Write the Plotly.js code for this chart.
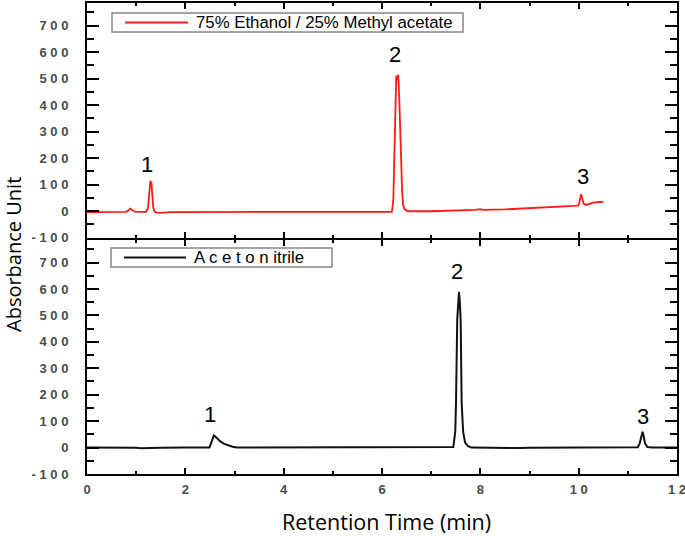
<!DOCTYPE html>
<html>
<head>
<meta charset="utf-8">
<script src="https://cdn.plot.ly/plotly-3.0.1.min.js"></script>
<style>html,body{margin:0;padding:0;background:#fff;}#chart{width:685px;height:536px;}</style>
</head>
<body>
<div id="chart"></div>
<script>
// Top panel: 75% Ethanol / 25% Methyl acetate (red)
const redTime = [0.00,0.30,0.60,0.80,0.85,0.88,0.92,0.97,1.10,1.20,1.24,1.26,1.28,1.29,1.30,1.31,1.33,1.35,1.38,1.45,1.55,1.70,2.00,2.50,3.00,3.50,4.00,4.50,5.00,5.50,6.00,6.20,6.23,6.25,6.27,6.29,6.31,6.33,6.35,6.37,6.39,6.41,6.43,6.46,6.52,6.60,7.00,7.50,7.90,8.00,8.05,8.50,9.00,9.50,9.90,10.00,10.03,10.05,10.07,10.10,10.15,10.22,10.30,10.40,10.50];
const redSignal = [-4,-4,-4,-3,4,9,4,-2,-3,-3,10,60,110,114,100,110,55,10,-4,-7,-6,-4,-4,-3,-3,-3,-3,-3,-3,-3,-3,-3,40,200,420,510,495,515,430,300,170,70,22,6,0,-1,-1,1,4,7,4,6,10,14,19,21,45,63,50,28,23,27,32,34,34];

// Bottom panel: Acetonitrile (black)
const blackTime = [0.00,0.50,1.00,1.10,1.20,1.30,1.40,1.50,2.00,2.49,2.52,2.55,2.58,2.62,2.70,2.78,2.86,2.96,3.05,3.50,4.00,5.00,6.00,7.00,7.40,7.45,7.49,7.505,7.53,7.555,7.565,7.58,7.60,7.62,7.65,7.69,7.75,7.82,8.30,8.50,8.60,8.70,8.80,9.00,10.00,10.90,11.00,11.10,11.20,11.24,11.28,11.30,11.32,11.35,11.40,11.50,12.00];
const blackSignal = [0,0,-1,-3,-3,-1,-3,-1,0,0,15,35,46,40,25,15,9,3,0,0,0,0,0,0,0,2,60,169,483,580,589,560,483,169,60,19,5,0,-1,-3,-2,-3,-2,-1,0,1,2,1,1,15,50,60,45,15,2,0,0];

const yTickVals = [-100,0,100,200,300,400,500,600,700];
const yTickText = ['- 1 0 0','0','1 0 0','2 0 0','3 0 0','4 0 0','5 0 0','6 0 0','7 0 0'];
const xTickVals = [0,2,4,6,8,10,12];
const xTickText = ['0','2','4','6','8','1 0','1 2'];

const series1Name = '75% Ethanol / 25% Methyl acetate';
const series2Name = 'A c e t o n itrile';
const peakLabels = ['1','2','3'];
const xTitle = 'Retention Time (min)';
const yTitle = 'Absorbance Unit';

const tickFont = {family:'Liberation Sans, Arial, sans-serif', size:13, color:'#4a4a4a', weight:'bold'};

function xAxis(anchor, showLabels){
  return {
    anchor: anchor, domain:[0,1], range:[0,12], showgrid:false, zeroline:false,
    showline:true, linecolor:'#000', linewidth:2, mirror:'ticks',
    ticks:'inside', ticklen:6, tickwidth:2, tickcolor:'#000',
    tickvals:xTickVals, ticktext:xTickText, showticklabels:showLabels,
    tickfont:tickFont, ticklabelstandoff:2, ticklabeloverflow:'allow',
    minor:{dtick:1, ticks:'inside', ticklen:3, tickwidth:2, tickcolor:'#000', showgrid:false}
  };
}
function yAxis(anchor, domain, range){
  return {
    anchor: anchor, domain:domain, range:range, showgrid:false, zeroline:false,
    showline:true, linecolor:'#000', linewidth:2, mirror:'ticks',
    ticks:'inside', ticklen:12, tickwidth:2, tickcolor:'#000',
    tickvals:yTickVals, ticktext:yTickText, tickfont:tickFont, ticklabelstandoff:14,
    minor:{dtick:50, ticks:'inside', ticklen:7, tickwidth:2, tickcolor:'#000', showgrid:false}
  };
}

const traces = [
  {x:redTime, y:redSignal, xaxis:'x', yaxis:'y', type:'scatter', mode:'lines',
   line:{color:'#ff1a1a', width:1.8}, name:series1Name, showlegend:false},
  {x:blackTime, y:blackSignal, xaxis:'x2', yaxis:'y2', type:'scatter', mode:'lines',
   line:{color:'#111', width:2}, name:series2Name, showlegend:false}
];

// paper helpers (plot area: 87..677 px horizontally, 3..474 px vertically)
const px = v => (v-87)/590;
const py = v => (474-v)/471;

const labelFont = {family:'Liberation Sans, Arial, sans-serif', size:22, color:'#000'};
const legendFont = {family:'Liberation Sans, Arial, sans-serif', size:16.8, color:'#000'};
const annotations = [
  {xref:'x', yref:'y', x:1.22, y:175, text:peakLabels[0], showarrow:false, font:labelFont},
  {xref:'x', yref:'y', x:6.26, y:589, text:peakLabels[1], showarrow:false, font:labelFont},
  {xref:'x', yref:'y', x:10.08, y:130, text:peakLabels[2], showarrow:false, font:labelFont},
  {xref:'x2', yref:'y2', x:2.50, y:124, text:peakLabels[0], showarrow:false, font:labelFont},
  {xref:'x2', yref:'y2', x:7.52, y:667, text:peakLabels[1], showarrow:false, font:labelFont},
  {xref:'x2', yref:'y2', x:11.31, y:118, text:peakLabels[2], showarrow:false, font:labelFont},
  // legend texts
  {xref:'paper', yref:'paper', x:px(194), y:py(22.5), xanchor:'left', yanchor:'middle', text:series1Name, showarrow:false, font:legendFont},
  {xref:'paper', yref:'paper', x:px(192), y:py(257.5), xanchor:'left', yanchor:'middle', text:series2Name, showarrow:false, font:legendFont},
  // axis titles
  {xref:'paper', yref:'paper', x:px(13), y:py(255), xanchor:'center', yanchor:'middle', textangle:-90, text:yTitle, showarrow:false,
   font:{family:'Open Sans, sans-serif', size:20, color:'#000'}},
  {xref:'paper', yref:'paper', x:px(386), y:py(521), xanchor:'center', yanchor:'middle', text:xTitle, showarrow:false,
   font:{family:'Open Sans, sans-serif', size:21.5, color:'#000'}}
];

const shapes = [
  {type:'rect', xref:'paper', yref:'paper', x0:px(112), x1:px(463), y0:py(32), y1:py(13), line:{color:'#888', width:1.5}, fillcolor:'rgba(0,0,0,0)'},
  {type:'line', xref:'paper', yref:'paper', x0:px(125), x1:px(188), y0:py(22.5), y1:py(22.5), line:{color:'#ff1a1a', width:2}},
  {type:'rect', xref:'paper', yref:'paper', x0:px(111), x1:px(332), y0:py(267), y1:py(248), line:{color:'#888', width:1.5}, fillcolor:'rgba(0,0,0,0)'},
  {type:'line', xref:'paper', yref:'paper', x0:px(124), x1:px(186), y0:py(257.5), y1:py(257.5), line:{color:'#111', width:2}}
];

const layout = {
  width:685, height:536,
  margin:{l:87, r:8, t:3, b:62},
  paper_bgcolor:'#fff', plot_bgcolor:'#fff',
  showlegend:false,
  xaxis: xAxis('y', false),
  xaxis2: xAxis('y2', true),
  yaxis: yAxis('x', [0.5 + 1/471, 1], [-100, 785]),
  yaxis2: yAxis('x2', [0, 0.5 - 1/471], [-100, 787]),
  annotations: annotations,
  shapes: shapes
};

Plotly.newPlot('chart', traces, layout, {staticPlot:true, displayModeBar:false});
</script>
</body>
</html>
